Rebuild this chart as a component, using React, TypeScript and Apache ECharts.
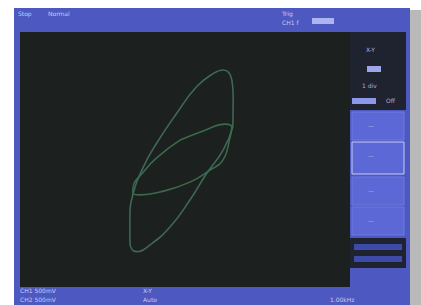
import React, { useEffect, useRef } from "react";
import * as echarts from "echarts";

// Traced Lissajous curves (X-Y mode), in screen divisions (x: -5..5, y: -4..4)
const curveAX = [1.45, 1.16, 0.66, 0.15, -0.45, -1.06, -1.46, -1.67, -1.67, -1.57, -1.26, -0.86, -0.25, 0.35, 0.86, 1.16, 1.42, 1.46, 1.45];
const curveAY = [1.03, 0.3, -0.43, -1.27, -2.11, -2.68, -2.89, -2.58, -1.9, -1.06, -0.23, 0.51, 1.45, 2.28, 2.7, 2.81, 2.49, 1.97, 1.03];
const curveBX = [-0.15, 0.61, 1.21, 1.42, 1.36, 1.15, 0.76, 0.15, -0.76, -1.36, -1.58, -1.58, -1.21, -0.76, -0.15];
const curveBY = [0.61, 0.92, 1.11, 1.02, 0.67, -0.02, -0.33, -0.71, -1.02, -1.11, -1.05, -0.96, -0.33, 0.14, 0.61];

const topLabels = ["Stop", "Normal"];
const bottomLabels = ["CH1 500mV", "CH2 500mV", "X-Y", "Auto"];
const softKeys = ["", "", "", ""];

export default function App() {
  const ref = useRef<HTMLDivElement>(null);
  useEffect(() => {
    const chart = echarts.init(ref.current!, null, { renderer: "svg" });
    const pairs = (xs: number[], ys: number[]) => xs.map((x, i) => [x, ys[i]]);
    const txt = (x: number, y: number, t: string, fill = "#c9cdf0", size = 6) => ({
      type: "text", x, y, style: { text: t, fill, fontSize: size, fontFamily: "DejaVu Sans" }, z: 10,
    });
    const btnY = [112, 142, 177, 207];
    chart.setOption({
      animation: false,
      backgroundColor: "#ffffff",
      grid: { left: 20, top: 32, width: 330, height: 255, show: true, backgroundColor: "#1c201e", borderWidth: 0 },
      xAxis: { type: "value", min: -5, max: 5, show: false },
      yAxis: { type: "value", min: -4, max: 4, show: false },
      graphic: [
        { type: "rect", shape: { x: 408, y: 10, width: 13, height: 295 }, style: { fill: "#b9b9b9" }, z: -20 },
        { type: "rect", shape: { x: 14, y: 8, width: 396, height: 297 }, style: { fill: "#4d58c0" }, z: -10 },
        { type: "rect", shape: { x: 350, y: 32, width: 56, height: 78 }, style: { fill: "#1f2330" }, z: -5 },
        ...btnY.map((y, i) => ({
          type: "rect", shape: { x: 352, y, width: 52, height: i === 1 ? 32 : 28 },
          style: { fill: "#5b68d6", stroke: i === 1 ? "#c8ccf2" : "#6f7ae0", lineWidth: 1 }, z: -4,
        })),
        { type: "rect", shape: { x: 350, y: 238, width: 56, height: 30 }, style: { fill: "#1f2330" }, z: -5 },
        { type: "rect", shape: { x: 354, y: 244, width: 48, height: 6 }, style: { fill: "#3d4aa8" }, z: -3 },
        { type: "rect", shape: { x: 354, y: 256, width: 48, height: 6 }, style: { fill: "#3d4aa8" }, z: -3 },
        txt(18, 10, topLabels[0]),
        txt(48, 10, topLabels[1]),
        txt(282, 10, "Trig"),
        txt(282, 19, "CH1 f"),
        { type: "rect", shape: { x: 312, y: 18, width: 22, height: 6 }, style: { fill: "#aeb5ee" }, z: 9 },
        txt(366, 46, "X-Y", "#aab0e0"),
        { type: "rect", shape: { x: 367, y: 66, width: 14, height: 6 }, style: { fill: "#9ea6e8" }, z: 9 },
        txt(362, 82, "1 div", "#aab0e0"),
        { type: "rect", shape: { x: 352, y: 98, width: 24, height: 6 }, style: { fill: "#8e98ea" }, z: 9 },
        txt(386, 97, "Off", "#aab0e0"),
        ...softKeys.map((t, i) => txt(368, btnY[i] + 10, t || "—", "#aab0e0")),
        txt(20, 287, bottomLabels[0]),
        txt(20, 296, bottomLabels[1]),
        txt(143, 287, bottomLabels[2]),
        txt(143, 296, bottomLabels[3]),
        txt(330, 296, "1.00kHz"),
      ],
      series: [
        {
          type: "line", data: pairs(curveAX, curveAY), smooth: 0.5, showSymbol: false,
          lineStyle: { color: "#3f675a", width: 1.6 },
        },
        {
          type: "line", data: pairs(curveBX, curveBY), smooth: 0.5, showSymbol: false,
          lineStyle: { color: "#3a6a4c", width: 1.6 },
        },
      ],
    });
    return () => chart.dispose();
  }, []);
  return <div ref={ref} style={{ position: "fixed", left: 0, top: 0, width: 421, height: 305 }} />;
}
